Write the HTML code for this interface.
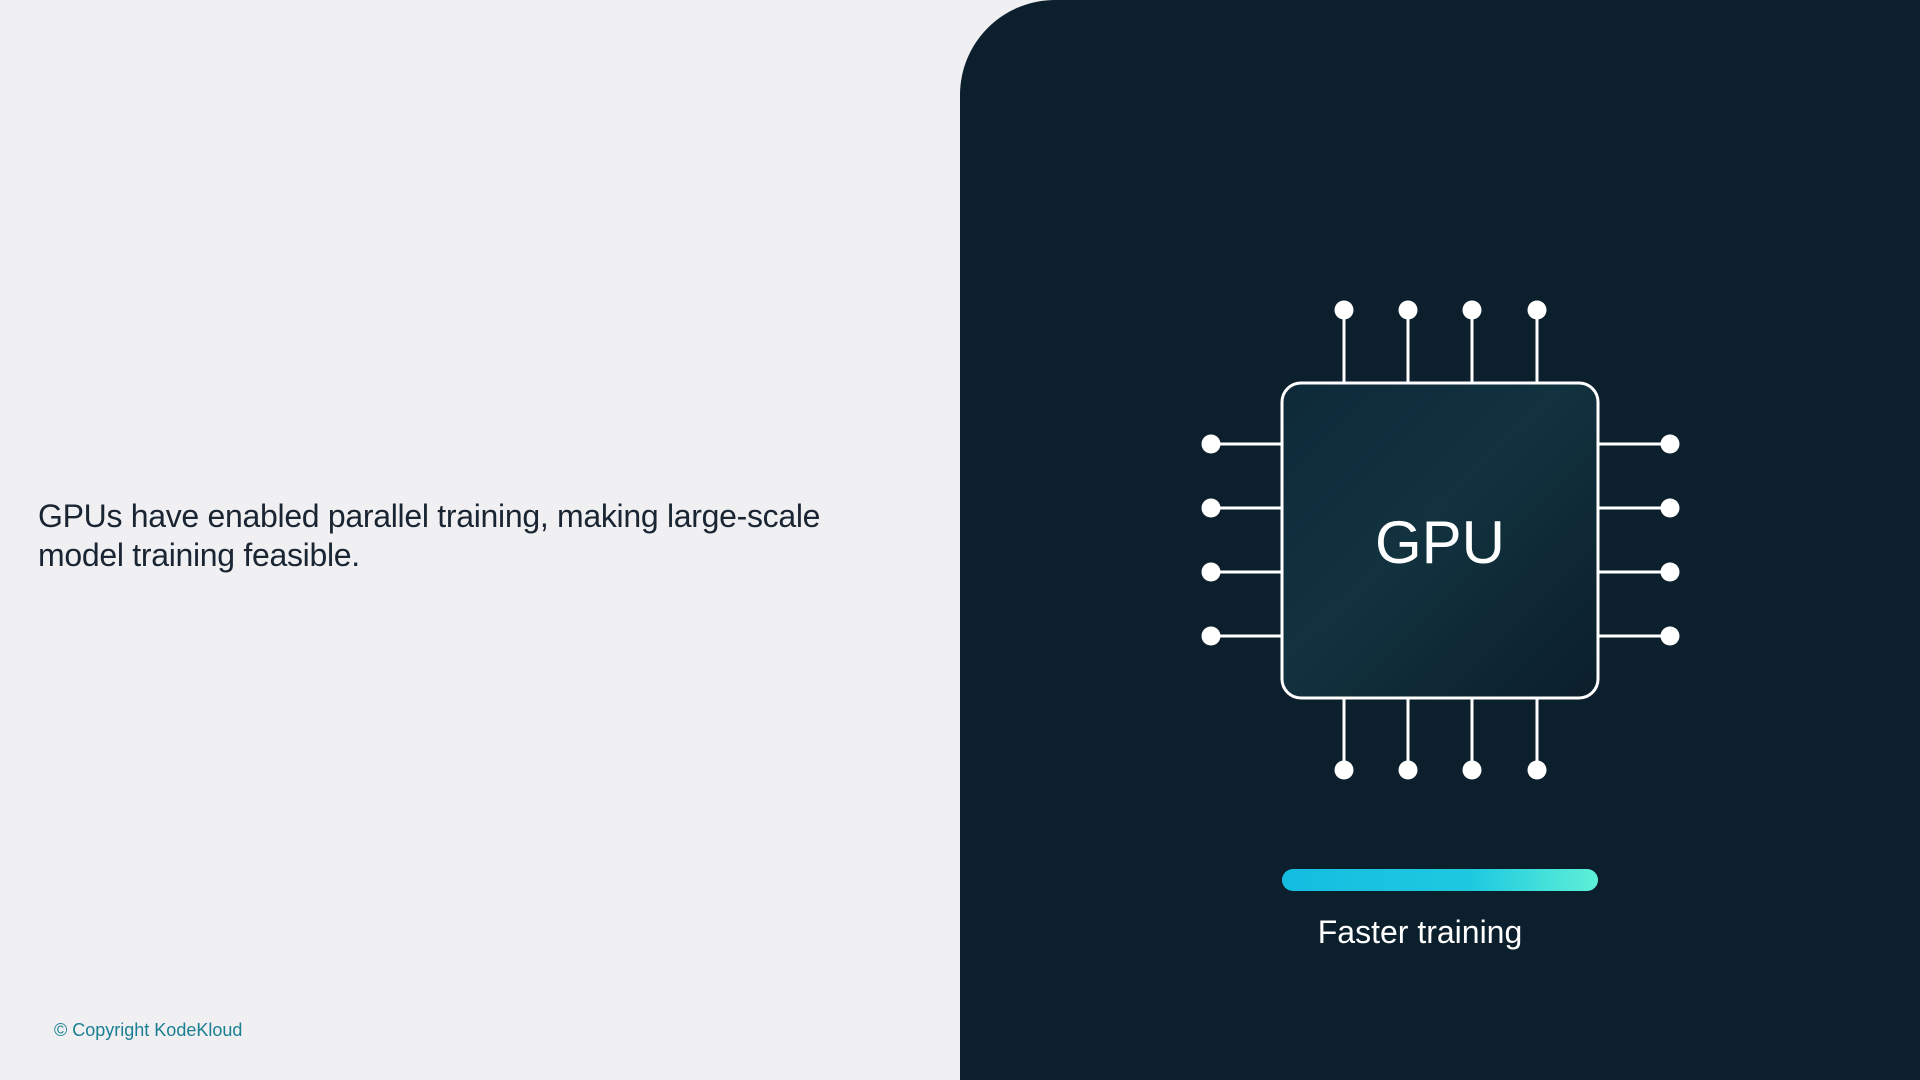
<!DOCTYPE html>
<html><head><meta charset="utf-8"><style>
html,body{margin:0;padding:0;width:1920px;height:1080px;overflow:hidden;background:#f0eff1;font-family:"Liberation Sans",sans-serif}
.panel{position:absolute;left:960px;top:0;width:960px;height:1080px;background:#0c1f2d;border-top-left-radius:95px}
.txt{position:absolute;left:38px;top:497px;font-size:32px;line-height:39px;color:#1a2533;letter-spacing:-0.3px}
.copy{position:absolute;left:54px;top:1020px;font-size:18px;color:#1a7f93}
</style></head><body>
<div class="panel"></div>
<div class="txt">GPUs have enabled parallel training, making large-scale<br>model training feasible.</div>
<div class="copy">© Copyright KodeKloud</div>
<svg width="1920" height="1080" style="position:absolute;left:0;top:0">
<defs>
<linearGradient id="cg" x1="0" y1="0" x2="1" y2="1">
<stop offset="0" stop-color="#0e2a3a"/><stop offset="0.45" stop-color="#12323f"/><stop offset="1" stop-color="#0b1f2b"/>
</linearGradient>
<linearGradient id="bg" x1="0" y1="0" x2="1" y2="0">
<stop offset="0" stop-color="#14bde0"/><stop offset="0.6" stop-color="#1ec9e0"/><stop offset="1" stop-color="#5ef0d6"/>
</linearGradient>
</defs>
<g stroke="#fff" stroke-width="3" fill="#fff">
<line x1="1344" y1="310" x2="1344" y2="383"/><line x1="1408" y1="310" x2="1408" y2="383"/>
<line x1="1472" y1="310" x2="1472" y2="383"/><line x1="1537" y1="310" x2="1537" y2="383"/>
<line x1="1344" y1="698" x2="1344" y2="770"/><line x1="1408" y1="698" x2="1408" y2="770"/>
<line x1="1472" y1="698" x2="1472" y2="770"/><line x1="1537" y1="698" x2="1537" y2="770"/>
<line x1="1211" y1="444" x2="1282" y2="444"/><line x1="1211" y1="508" x2="1282" y2="508"/>
<line x1="1211" y1="572" x2="1282" y2="572"/><line x1="1211" y1="636" x2="1282" y2="636"/>
<line x1="1598" y1="444" x2="1670" y2="444"/><line x1="1598" y1="508" x2="1670" y2="508"/>
<line x1="1598" y1="572" x2="1670" y2="572"/><line x1="1598" y1="636" x2="1670" y2="636"/>
<g stroke="none">
<circle cx="1344" cy="310" r="9.5"/><circle cx="1408" cy="310" r="9.5"/><circle cx="1472" cy="310" r="9.5"/><circle cx="1537" cy="310" r="9.5"/>
<circle cx="1344" cy="770" r="9.5"/><circle cx="1408" cy="770" r="9.5"/><circle cx="1472" cy="770" r="9.5"/><circle cx="1537" cy="770" r="9.5"/>
<circle cx="1211" cy="444" r="9.5"/><circle cx="1211" cy="508" r="9.5"/><circle cx="1211" cy="572" r="9.5"/><circle cx="1211" cy="636" r="9.5"/>
<circle cx="1670" cy="444" r="9.5"/><circle cx="1670" cy="508" r="9.5"/><circle cx="1670" cy="572" r="9.5"/><circle cx="1670" cy="636" r="9.5"/>
</g>
</g>
<rect x="1282" y="383" width="316" height="315" rx="19" fill="url(#cg)" stroke="#fff" stroke-width="3"/>
<text x="1440" y="563" text-anchor="middle" font-size="60" fill="#fff" font-family="Liberation Sans, sans-serif">GPU</text>
<rect x="1282" y="869" width="316" height="22" rx="11" fill="url(#bg)"/>
<text x="1420" y="943" text-anchor="middle" font-size="32" fill="#fff" font-family="Liberation Sans, sans-serif">Faster training</text>
</svg>
</body></html>
